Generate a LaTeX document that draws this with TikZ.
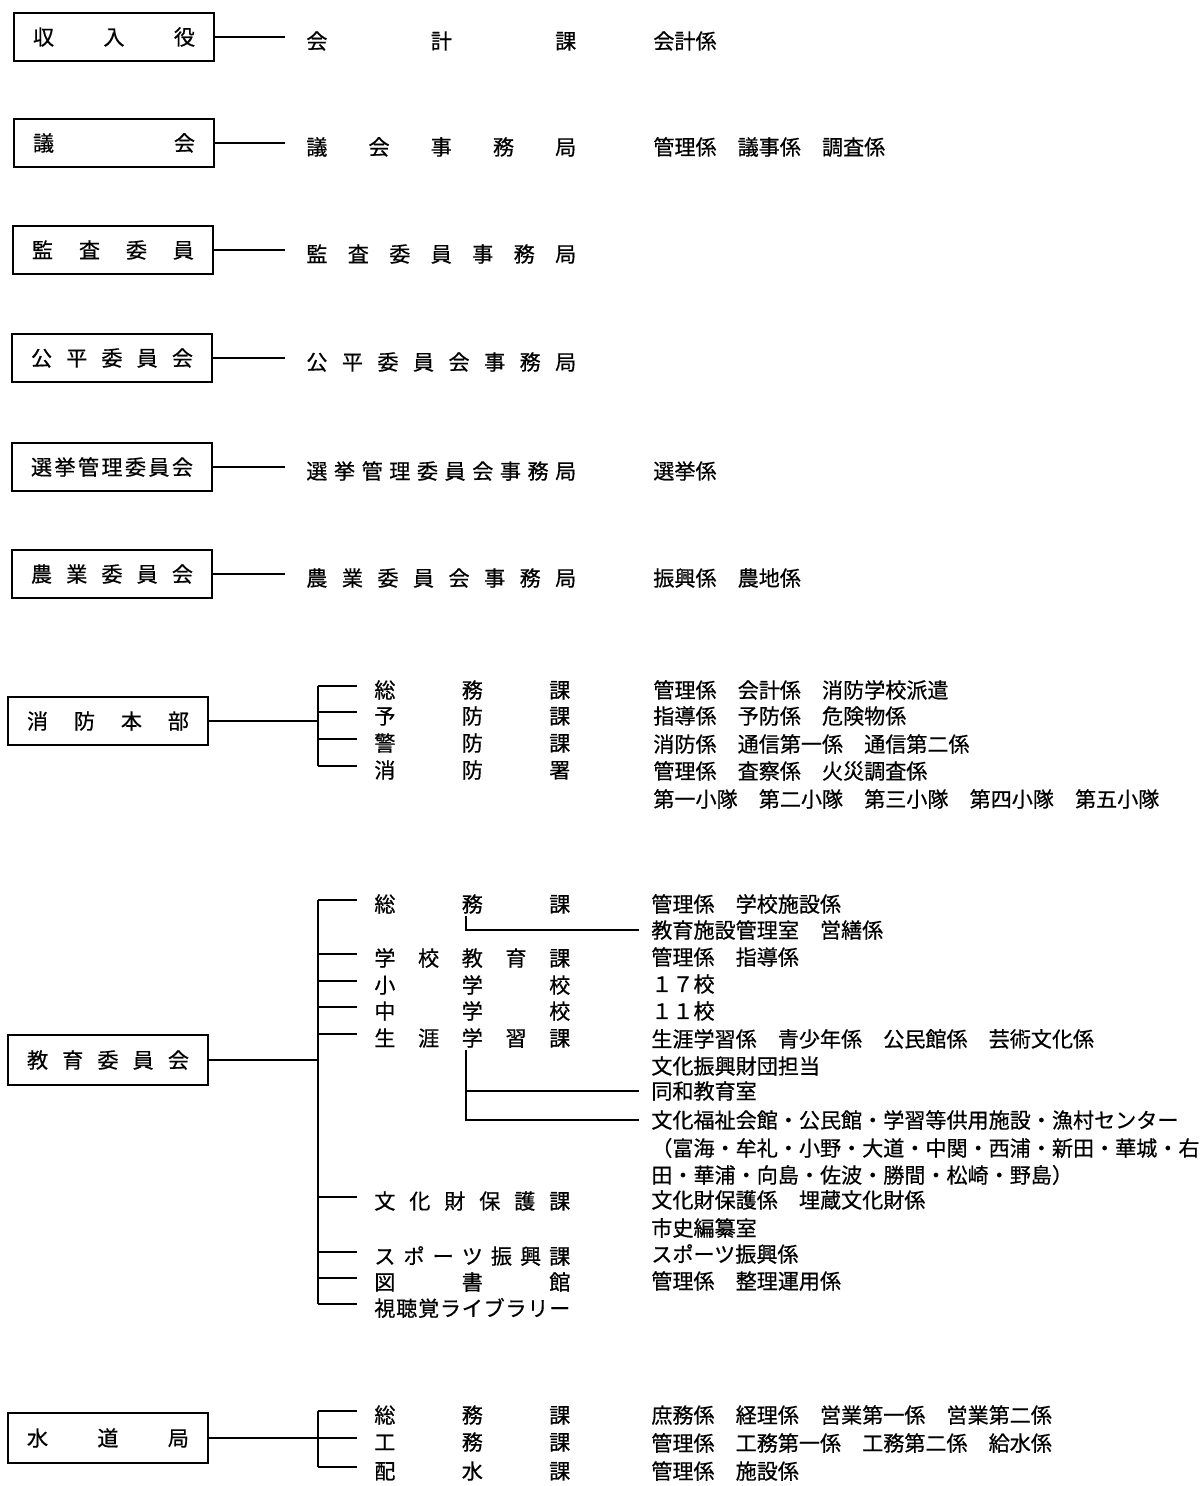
\documentclass[tikz,border=0pt]{standalone}
\usepackage{fontspec}
\setmainfont{Noto Sans CJK JP}[FakeBold=0.6]
\usetikzlibrary{positioning}

\makeatletter
\newcommand{\spreadtext}[2]{\makebox[#1][s]{\expandafter\spr@first#2\relax}}
\def\spr@first#1{#1\spr@rest}
\def\spr@rest#1{\ifx#1\relax\else\hfill#1\expandafter\spr@rest\fi}
\makeatother

\tikzset{
  unitbox/.style={draw, line width=0.9pt, minimum width=4cm, minimum height=0.96cm, inner sep=0pt},
  lbl/.style={anchor=west, inner sep=0pt},
  link/.style={line width=0.9pt},
}

\begin{document}
\begin{tikzpicture}[x=0.02cm,y=-0.02cm,font=\fontsize{12}{14}\selectfont]
  \useasboundingbox (0,0) rectangle (1203,1486);

  % single-line units
  \foreach \n/\yy/\xx/\boxtxt/\midtxt/\rtxt in {
    shu/37/114/収入役/会計課/会計係,
    gik/143/114/議会/議会事務局/管理係　議事係　調査係,
    kan/250/113/監査委員/監査委員事務局/{},
    kou/358/112/公平委員会/公平委員会事務局/{},
    sen/467/112/選挙管理委員会/選挙管理委員会事務局/選挙係,
    nou/574/112/農業委員会/農業委員会事務局/振興係　農地係
  } {
    \node[unitbox] (\n) at (\xx,\yy) {\spreadtext{3.24cm}{\boxtxt}};
    \coordinate (\n-end) at (285,\yy);
    \draw[link] (\n) -- (\n-end);
    \node[lbl] (\n-mid) at (306,\yy+4) {\spreadtext{5.4cm}{\midtxt}};
    \node[lbl] (\n-sub) at (653,\yy+4) {\rtxt};
  }

  % fire department
  \node[unitbox] (fire) at (108,721) {\spreadtext{3.24cm}{消防本部}};
  \coordinate (fire-jn) at (318,721);
  \coordinate (fire-top) at (318,686);
  \coordinate (fire-bot) at (318,766);
  \draw[link] (fire) -- (fire-jn);
  \draw[link] (fire-top) -- (fire-bot);
  \foreach \i/\yy/\txt in {1/686/総務課, 2/712/予防課, 3/739/警防課, 4/766/消防署} {
    \coordinate (fire-t\i) at (318,\yy);
    \draw[link] (fire-t\i) -- ++(39,0);
    \node[lbl] (fire-\i) at (374,\yy+4) {\spreadtext{3.92cm}{\txt}};
  }
  \foreach \i/\yy/\txt in {
    1/690/管理係　会計係　消防学校派遣,
    2/716/指導係　予防係　危険物係,
    3/744/消防係　通信第一係　通信第二係,
    4/771/管理係　査察係　火災調査係,
    5/799/第一小隊　第二小隊　第三小隊　第四小隊　第五小隊
  } {
    \node[lbl] (fire-r\i) at (653,\yy) {\txt};
  }

  % board of education
  \node[unitbox, minimum height=1cm] (edu) at (108,1060) {\spreadtext{3.24cm}{教育委員会}};
  \coordinate (edu-jn) at (318,1060);
  \coordinate (edu-top) at (318,900);
  \coordinate (edu-bot) at (318,1304);
  \draw[link] (edu) -- (edu-jn);
  \draw[link] (edu-top) -- (edu-bot);
  \foreach \i/\yy/\txt in {
    1/900/総務課, 2/954/学校教育課, 3/981/小学校, 4/1007/中学校, 5/1034/生涯学習課,
    6/1197/文化財保護課, 7/1252/スポーツ振興課, 8/1278/図書館, 9/1304/視聴覚ライブラリー
  } {
    \coordinate (edu-t\i) at (318,\yy);
    \draw[link] (edu-t\i) -- ++(39,0);
    \node[lbl] (edu-\i) at (374,\yy+4) {\spreadtext{3.92cm}{\txt}};
  }
  \foreach \i/\yy/\txt in {
    1/904/管理係　学校施設係,
    2/930/教育施設管理室　営繕係,
    3/957/管理係　指導係,
    4/984/１７校,
    5/1011/１１校,
    6/1039/生涯学習係　青少年係　公民館係　芸術文化係,
    7/1066/文化振興財団担当,
    8/1091/同和教育室,
    9/1120/文化福祉会館・公民館・学習等供用施設・漁村センター,
    10/1148/（富海・牟礼・小野・大道・中関・西浦・新田・華城・右,
    11/1175/田・華浦・向島・佐波・勝間・松崎・野島）,
    12/1200/文化財保護係　埋蔵文化財係,
    13/1228/市史編纂室,
    14/1254/スポーツ振興係,
    15/1281/管理係　整理運用係
  } {
    \node[lbl] (edu-r\i) at (651,\yy) {\txt};
  }
  \coordinate (edu-d1) at (466,916);
  \draw[link, shorten >=0.24cm] (edu-d1) |- (edu-r2.west);
  \coordinate (edu-d2) at (466,1050);
  \draw[link, shorten >=0.24cm] (edu-d2) |- (edu-r9.west);
  \draw[link, shorten >=0.24cm] (edu-d2 |- edu-r8.west) -- (edu-r8.west);

  % waterworks bureau
  \node[unitbox, minimum height=1cm] (wat) at (108,1438) {\spreadtext{3.24cm}{水道局}};
  \coordinate (wat-top) at (318,1411);
  \coordinate (wat-bot) at (318,1467);
  \coordinate (wat-end) at (357,1438);
  \draw[link] (wat) -- (wat-end);
  \draw[link] (wat-top) -- (wat-bot);
  \foreach \i/\yy/\txt in {1/1411/総務課, 3/1467/配水課} {
    \coordinate (wat-t\i) at (318,\yy);
    \draw[link] (wat-t\i) -- ++(39,0);
  }
  \foreach \i/\yy/\txt in {1/1411/総務課, 2/1438/工務課, 3/1467/配水課} {
    \node[lbl] (wat-\i) at (374,\yy+4) {\spreadtext{3.92cm}{\txt}};
  }
  \foreach \i/\yy/\txt in {
    1/1415/庶務係　経理係　営業第一係　営業第二係,
    2/1443/管理係　工務第一係　工務第二係　給水係,
    3/1471/管理係　施設係
  } {
    \node[lbl] (wat-r\i) at (651,\yy) {\txt};
  }
\end{tikzpicture}
\end{document}
